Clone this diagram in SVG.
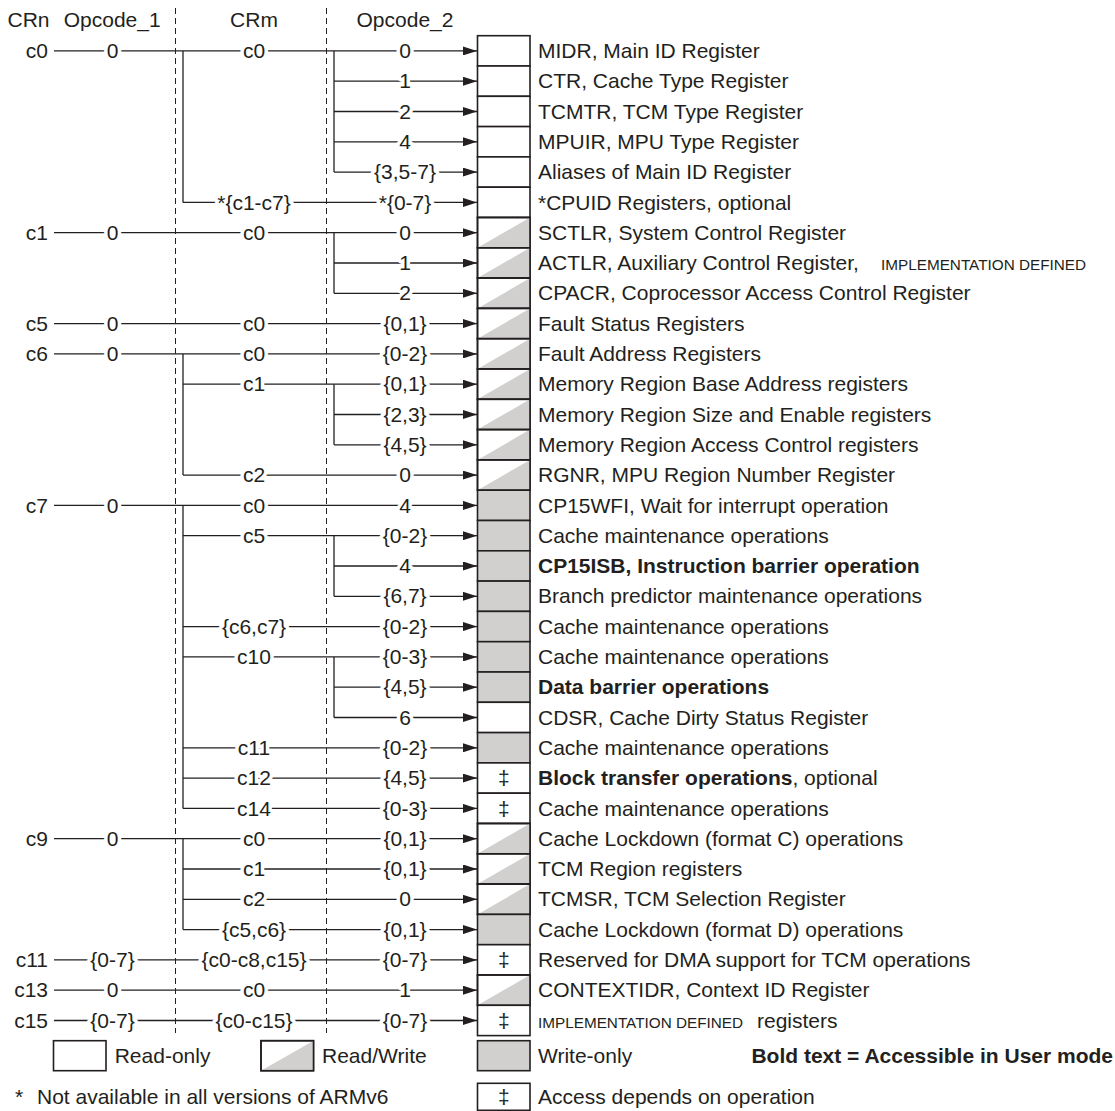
<svg xmlns="http://www.w3.org/2000/svg" width="1115" height="1111" viewBox="0 0 1115 1111">
<style>
.ln{stroke:#231f20;stroke-width:1.3;fill:none}
.ar{marker-end:url(#ah)}
.dash{stroke:#231f20;stroke-width:1;stroke-dasharray:6 4;fill:none}
.bx{stroke:#231f20;stroke-width:1.6;fill:#fff}
.bo{stroke:#231f20;stroke-width:1.6;fill:none}
.g{fill:#d1d0ce}
.wb{fill:#fff}
text{font-family:"Liberation Sans",Arial,Helvetica,sans-serif;font-size:21px;fill:#231f20}
.m{text-anchor:middle}
.e{text-anchor:end}
.lb{stroke:#fff;stroke-width:7px;stroke-linejoin:round;paint-order:stroke}
.sc{font-size:15.3px}
.b{font-weight:bold}
</style>
<defs>
<marker id="ah" markerUnits="userSpaceOnUse" markerWidth="14" markerHeight="9" refX="14" refY="4.5" orient="auto">
<path d="M0,0 L14,4.5 L0,9 Z" fill="#231f20"/>
</marker>
<g id="boxR"><rect class="bx" width="52.5" height="30.3"/></g>
<g id="boxRW"><rect class="bx" width="52.5" height="30.3"/><path class="g" d="M0,30.3 L52.5,0 V30.3 Z"/><rect class="bo" width="52.5" height="30.3"/></g>
<g id="boxW"><rect class="bx g" width="52.5" height="30.3"/></g>
<g id="boxD"><rect class="bx" width="52.5" height="30.3"/><text class="m" x="26.25" y="22.5">‡</text></g>
</defs>
<rect width="1115" height="1111" fill="#fff"/>

<g id="headers">
<text x="7.5" y="27">CRn</text>
<text x="63.7" y="27">Opcode_1</text>
<text class="m" x="254" y="27">CRm</text>
<text class="m" x="405" y="27">Opcode_2</text>
</g>

<g id="guides">
<line class="dash" x1="175.5" y1="8" x2="175.5" y2="1033"/>
<line class="dash" x1="326.5" y1="8" x2="326.5" y2="1033"/>
</g>

<g id="connectors">
<line class="ln" x1="183" y1="50.9" x2="183" y2="202.4"/>
<line class="ln" x1="183" y1="353.9" x2="183" y2="475.1"/>
<line class="ln" x1="183" y1="505.4" x2="183" y2="808.4"/>
<line class="ln" x1="183" y1="838.7" x2="183" y2="929.6"/>
<line class="ln" x1="334" y1="50.9" x2="334" y2="172.1"/>
<line class="ln" x1="334" y1="232.7" x2="334" y2="293.3"/>
<line class="ln" x1="334" y1="384.2" x2="334" y2="444.8"/>
<line class="ln" x1="334" y1="535.7" x2="334" y2="596.3"/>
<line class="ln" x1="334" y1="656.9" x2="334" y2="717.5"/>
<line class="ln ar" x1="54" y1="50.9" x2="477" y2="50.9"/>
<line class="ln ar" x1="334" y1="81.2" x2="477" y2="81.2"/>
<line class="ln ar" x1="334" y1="111.5" x2="477" y2="111.5"/>
<line class="ln ar" x1="334" y1="141.8" x2="477" y2="141.8"/>
<line class="ln ar" x1="334" y1="172.1" x2="477" y2="172.1"/>
<line class="ln ar" x1="183" y1="202.4" x2="477" y2="202.4"/>
<line class="ln ar" x1="54" y1="232.7" x2="477" y2="232.7"/>
<line class="ln ar" x1="334" y1="263" x2="477" y2="263"/>
<line class="ln ar" x1="334" y1="293.3" x2="477" y2="293.3"/>
<line class="ln ar" x1="54" y1="323.6" x2="477" y2="323.6"/>
<line class="ln ar" x1="54" y1="353.9" x2="477" y2="353.9"/>
<line class="ln ar" x1="183" y1="384.2" x2="477" y2="384.2"/>
<line class="ln ar" x1="334" y1="414.5" x2="477" y2="414.5"/>
<line class="ln ar" x1="334" y1="444.8" x2="477" y2="444.8"/>
<line class="ln ar" x1="183" y1="475.1" x2="477" y2="475.1"/>
<line class="ln ar" x1="54" y1="505.4" x2="477" y2="505.4"/>
<line class="ln ar" x1="183" y1="535.7" x2="477" y2="535.7"/>
<line class="ln ar" x1="334" y1="566" x2="477" y2="566"/>
<line class="ln ar" x1="334" y1="596.3" x2="477" y2="596.3"/>
<line class="ln ar" x1="183" y1="626.6" x2="477" y2="626.6"/>
<line class="ln ar" x1="183" y1="656.9" x2="477" y2="656.9"/>
<line class="ln ar" x1="334" y1="687.2" x2="477" y2="687.2"/>
<line class="ln ar" x1="334" y1="717.5" x2="477" y2="717.5"/>
<line class="ln ar" x1="183" y1="747.8" x2="477" y2="747.8"/>
<line class="ln ar" x1="183" y1="778.1" x2="477" y2="778.1"/>
<line class="ln ar" x1="183" y1="808.4" x2="477" y2="808.4"/>
<line class="ln ar" x1="54" y1="838.7" x2="477" y2="838.7"/>
<line class="ln ar" x1="183" y1="869" x2="477" y2="869"/>
<line class="ln ar" x1="183" y1="899.3" x2="477" y2="899.3"/>
<line class="ln ar" x1="183" y1="929.6" x2="477" y2="929.6"/>
<line class="ln ar" x1="54" y1="959.9" x2="477" y2="959.9"/>
<line class="ln ar" x1="54" y1="990.2" x2="477" y2="990.2"/>
<line class="ln ar" x1="54" y1="1020.5" x2="477" y2="1020.5"/>
<!-- white backing for labels containing commas -->
<rect class="wb" x="374" y="169.1" width="62" height="6"/>
<rect class="wb" x="383.4" y="320.6" width="43.2" height="6"/>
<rect class="wb" x="383.4" y="381.2" width="43.2" height="6"/>
<rect class="wb" x="383.4" y="411.5" width="43.2" height="6"/>
<rect class="wb" x="383.4" y="441.8" width="43.2" height="6"/>
<rect class="wb" x="383.4" y="593.3" width="43.2" height="6"/>
<rect class="wb" x="383.4" y="684.2" width="43.2" height="6"/>
<rect class="wb" x="383.4" y="775.1" width="43.2" height="6"/>
<rect class="wb" x="383.4" y="835.7" width="43.2" height="6"/>
<rect class="wb" x="383.4" y="866" width="43.2" height="6"/>
<rect class="wb" x="383.4" y="926.6" width="43.2" height="6"/>
<rect class="wb" x="221.9" y="623.6" width="64.2" height="6"/>
<rect class="wb" x="221.9" y="926.6" width="64.2" height="6"/>
<rect class="wb" x="201.5" y="956.9" width="105" height="6"/>
<text class="e" x="48" y="58">c0</text>
<text class="e" x="48" y="239.8">c1</text>
<text class="e" x="48" y="330.7">c5</text>
<text class="e" x="48" y="361">c6</text>
<text class="e" x="48" y="512.5">c7</text>
<text class="e" x="48" y="845.8">c9</text>
<text class="e" x="48" y="967">c11</text>
<text class="e" x="48" y="997.3">c13</text>
<text class="e" x="48" y="1027.6">c15</text>
<text class="m lb" x="112.5" y="58">0</text>
<text class="m lb" x="112.5" y="239.8">0</text>
<text class="m lb" x="112.5" y="330.7">0</text>
<text class="m lb" x="112.5" y="361">0</text>
<text class="m lb" x="112.5" y="512.5">0</text>
<text class="m lb" x="112.5" y="845.8">0</text>
<text class="m lb" x="112.5" y="967">{0-7}</text>
<text class="m lb" x="112.5" y="997.3">0</text>
<text class="m lb" x="112.5" y="1027.6">{0-7}</text>
<text class="m lb" x="254" y="58">c0</text>
<text class="m lb" x="254" y="209.5">*{c1-c7}</text>
<text class="m lb" x="254" y="239.8">c0</text>
<text class="m lb" x="254" y="330.7">c0</text>
<text class="m lb" x="254" y="361">c0</text>
<text class="m lb" x="254" y="391.3">c1</text>
<text class="m lb" x="254" y="482.2">c2</text>
<text class="m lb" x="254" y="512.5">c0</text>
<text class="m lb" x="254" y="542.8">c5</text>
<text class="m lb" x="254" y="633.7">{c6,c7}</text>
<text class="m lb" x="254" y="664">c10</text>
<text class="m lb" x="254" y="754.9">c11</text>
<text class="m lb" x="254" y="785.2">c12</text>
<text class="m lb" x="254" y="815.5">c14</text>
<text class="m lb" x="254" y="845.8">c0</text>
<text class="m lb" x="254" y="876.1">c1</text>
<text class="m lb" x="254" y="906.4">c2</text>
<text class="m lb" x="254" y="936.7">{c5,c6}</text>
<text class="m lb" x="254" y="967">{c0-c8,c15}</text>
<text class="m lb" x="254" y="997.3">c0</text>
<text class="m lb" x="254" y="1027.6">{c0-c15}</text>
<text class="m lb" x="405" y="58">0</text>
<text class="m lb" x="405" y="88.3">1</text>
<text class="m lb" x="405" y="118.6">2</text>
<text class="m lb" x="405" y="148.9">4</text>
<text class="m lb" x="405" y="179.2">{3,5-7}</text>
<text class="m lb" x="405" y="209.5">*{0-7}</text>
<text class="m lb" x="405" y="239.8">0</text>
<text class="m lb" x="405" y="270.1">1</text>
<text class="m lb" x="405" y="300.4">2</text>
<text class="m lb" x="405" y="330.7">{0,1}</text>
<text class="m lb" x="405" y="361">{0-2}</text>
<text class="m lb" x="405" y="391.3">{0,1}</text>
<text class="m lb" x="405" y="421.6">{2,3}</text>
<text class="m lb" x="405" y="451.9">{4,5}</text>
<text class="m lb" x="405" y="482.2">0</text>
<text class="m lb" x="405" y="512.5">4</text>
<text class="m lb" x="405" y="542.8">{0-2}</text>
<text class="m lb" x="405" y="573.1">4</text>
<text class="m lb" x="405" y="603.4">{6,7}</text>
<text class="m lb" x="405" y="633.7">{0-2}</text>
<text class="m lb" x="405" y="664">{0-3}</text>
<text class="m lb" x="405" y="694.3">{4,5}</text>
<text class="m lb" x="405" y="724.6">6</text>
<text class="m lb" x="405" y="754.9">{0-2}</text>
<text class="m lb" x="405" y="785.2">{4,5}</text>
<text class="m lb" x="405" y="815.5">{0-3}</text>
<text class="m lb" x="405" y="845.8">{0,1}</text>
<text class="m lb" x="405" y="876.1">{0,1}</text>
<text class="m lb" x="405" y="906.4">0</text>
<text class="m lb" x="405" y="936.7">{0,1}</text>
<text class="m lb" x="405" y="967">{0-7}</text>
<text class="m lb" x="405" y="997.3">1</text>
<text class="m lb" x="405" y="1027.6">{0-7}</text>
</g>

<g id="node-midr"><use href="#boxR" x="477.5" y="35.7"/><text x="538" y="58">MIDR, Main ID Register</text></g>
<g id="node-ctr"><use href="#boxR" x="477.5" y="66"/><text x="538" y="88.3">CTR, Cache Type Register</text></g>
<g id="node-tcmtr"><use href="#boxR" x="477.5" y="96.3"/><text x="538" y="118.6">TCMTR, TCM Type Register</text></g>
<g id="node-mpuir"><use href="#boxR" x="477.5" y="126.6"/><text x="538" y="148.9">MPUIR, MPU Type Register</text></g>
<g id="node-aliases"><use href="#boxR" x="477.5" y="156.9"/><text x="538" y="179.2">Aliases of Main ID Register</text></g>
<g id="node-cpuid"><use href="#boxR" x="477.5" y="187.2"/><text x="538" y="209.5">*CPUID Registers, optional</text></g>
<g id="node-sctlr"><use href="#boxRW" x="477.5" y="217.5"/><text x="538" y="239.8">SCTLR, System Control Register</text></g>
<g id="node-actlr"><use href="#boxRW" x="477.5" y="247.8"/><text x="538" y="270.1">ACTLR, Auxiliary Control Register,</text><text class="sc" x="881" y="270.1">IMPLEMENTATION DEFINED</text></g>
<g id="node-cpacr"><use href="#boxRW" x="477.5" y="278.1"/><text x="538" y="300.4">CPACR, Coprocessor Access Control Register</text></g>
<g id="node-fsr"><use href="#boxRW" x="477.5" y="308.4"/><text x="538" y="330.7">Fault Status Registers</text></g>
<g id="node-far"><use href="#boxRW" x="477.5" y="338.7"/><text x="538" y="361">Fault Address Registers</text></g>
<g id="node-mrbar"><use href="#boxRW" x="477.5" y="369"/><text x="538" y="391.3">Memory Region Base Address registers</text></g>
<g id="node-mrser"><use href="#boxRW" x="477.5" y="399.3"/><text x="538" y="421.6">Memory Region Size and Enable registers</text></g>
<g id="node-mracr"><use href="#boxRW" x="477.5" y="429.6"/><text x="538" y="451.9">Memory Region Access Control registers</text></g>
<g id="node-rgnr"><use href="#boxRW" x="477.5" y="459.9"/><text x="538" y="482.2">RGNR, MPU Region Number Register</text></g>
<g id="node-wfi"><use href="#boxW" x="477.5" y="490.2"/><text x="538" y="512.5">CP15WFI, Wait for interrupt operation</text></g>
<g id="node-cm1"><use href="#boxW" x="477.5" y="520.5"/><text x="538" y="542.8">Cache maintenance operations</text></g>
<g id="node-isb"><use href="#boxW" x="477.5" y="550.8"/><text class="b" x="538" y="573.1">CP15ISB, Instruction barrier operation</text></g>
<g id="node-bp"><use href="#boxW" x="477.5" y="581.1"/><text x="538" y="603.4">Branch predictor maintenance operations</text></g>
<g id="node-cm2"><use href="#boxW" x="477.5" y="611.4"/><text x="538" y="633.7">Cache maintenance operations</text></g>
<g id="node-cm3"><use href="#boxW" x="477.5" y="641.7"/><text x="538" y="664">Cache maintenance operations</text></g>
<g id="node-db"><use href="#boxW" x="477.5" y="672"/><text class="b" x="538" y="694.3">Data barrier operations</text></g>
<g id="node-cdsr"><use href="#boxR" x="477.5" y="702.3"/><text x="538" y="724.6">CDSR, Cache Dirty Status Register</text></g>
<g id="node-cm4"><use href="#boxW" x="477.5" y="732.6"/><text x="538" y="754.9">Cache maintenance operations</text></g>
<g id="node-bt"><use href="#boxD" x="477.5" y="762.9"/><text x="538" y="785.2"><tspan class="b">Block transfer operations</tspan>, optional</text></g>
<g id="node-cm5"><use href="#boxD" x="477.5" y="793.2"/><text x="538" y="815.5">Cache maintenance operations</text></g>
<g id="node-clc"><use href="#boxRW" x="477.5" y="823.5"/><text x="538" y="845.8">Cache Lockdown (format C) operations</text></g>
<g id="node-tcmr"><use href="#boxRW" x="477.5" y="853.8"/><text x="538" y="876.1">TCM Region registers</text></g>
<g id="node-tcmsr"><use href="#boxRW" x="477.5" y="884.1"/><text x="538" y="906.4">TCMSR, TCM Selection Register</text></g>
<g id="node-cld"><use href="#boxW" x="477.5" y="914.4"/><text x="538" y="936.7">Cache Lockdown (format D) operations</text></g>
<g id="node-dma"><use href="#boxD" x="477.5" y="944.7"/><text x="538" y="967">Reserved for DMA support for TCM operations</text></g>
<g id="node-ctxid"><use href="#boxRW" x="477.5" y="975"/><text x="538" y="997.3">CONTEXTIDR, Context ID Register</text></g>
<g id="node-impl"><use href="#boxD" x="477.5" y="1005.3"/><text class="sc" x="538" y="1027.6">IMPLEMENTATION DEFINED</text><text x="757" y="1027.6">registers</text></g>

<g id="legend">
<rect class="bx" x="53.5" y="1040.7" width="52.5" height="30"/>
<text x="114.7" y="1062.5">Read-only</text>
<rect class="bx" x="261" y="1040.7" width="52.5" height="30"/>
<path class="g" d="M261,1070.7 L313.5,1040.7 V1070.7 Z"/>
<rect class="bo" x="261" y="1040.7" width="52.5" height="30"/>
<text x="322" y="1062.5">Read/Write</text>
<rect class="bx g" x="477.5" y="1040.7" width="52.5" height="30"/>
<text x="538" y="1062.5">Write-only</text>
<text class="e b" x="1113" y="1062.5">Bold text = Accessible in User mode</text>
<text x="15" y="1104">*</text>
<text x="37" y="1104">Not available in all versions of ARMv6</text>
<rect class="bx" x="477.5" y="1083.3" width="52.5" height="27"/>
<text class="m" x="503.75" y="1104">‡</text>
<text x="538" y="1104">Access depends on operation</text>
</g>
</svg>
